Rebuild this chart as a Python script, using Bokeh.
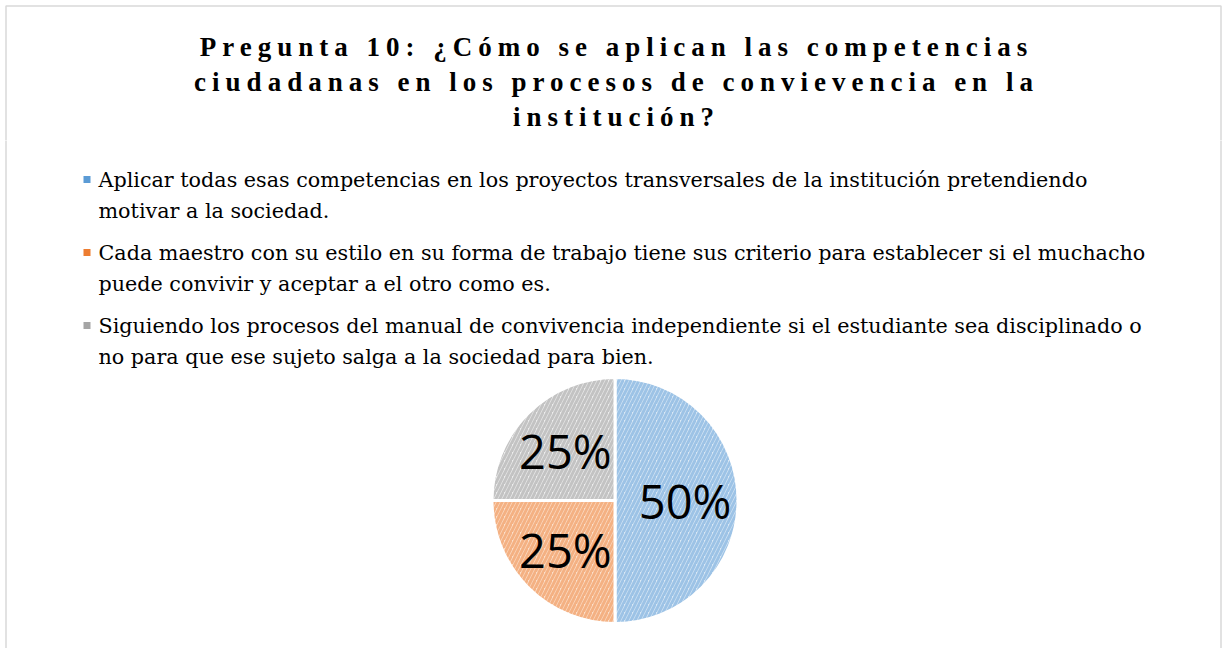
import numpy as np
from bokeh.plotting import figure
from bokeh.layouts import column
from bokeh.models import Range1d, ColumnDataSource
from bokeh.core.properties import value
from bokeh.embed import file_html
from bokeh.resources import INLINE

# ---- data ----
title_lines = [
    "Pregunta 10: ¿Cómo se aplican las competencias",
    "ciudadanas en los procesos de convievencia en la",
    "institución?",
]
categories = [
    "Aplicar todas esas competencias en los proyectos transversales de la institución pretendiendo motivar a la sociedad.",
    "Cada maestro con su  estilo en su forma de trabajo tiene sus criterio para establecer si el muchacho puede convivir y aceptar a el otro como es.",
    "Siguiendo los procesos del manual de convivencia independiente si el estudiante sea disciplinado o no para que ese  sujeto salga a la sociedad para bien.",
]
legend_lines = [
    ["Aplicar todas esas competencias en los proyectos transversales de la institución pretendiendo",
     "motivar a la sociedad."],
    ["Cada maestro con su  estilo en su forma de trabajo tiene sus criterio para establecer si el muchacho",
     "puede convivir y aceptar a el otro como es."],
    ["Siguiendo los procesos del manual de convivencia independiente si el estudiante sea disciplinado o",
     "no para que ese  sujeto salga a la sociedad para bien."],
]
values = [50, 25, 25]
fill_colors = ["#dae8f5", "#fbe0cc", "#ededed"]
hatch_colors = ["#9dc3e6", "#f4b183", "#c3c3c3"]
marker_colors = ["#5b9bd5", "#ed7d31", "#a5a5a5"]

W = 1222
H1, H2 = 140, 508
BORDER = "#d9d9d9"
SPACING = 6  # px letter spacing of the title

def Y1(yref):
    return H1 - yref

def Y2(yref):
    return H1 + H2 - yref

# ---- title figure ----
t = figure(width=W, height=H1, output_backend="svg", toolbar_location=None,
           x_range=Range1d(0, W), y_range=Range1d(0, H1), min_border=0,
           styles={"letter-spacing": f"{SPACING}px"})
t.axis.visible = False
t.grid.visible = False
t.outline_line_color = None
t.quad(left=[5.5], right=[1220.5], top=[Y1(5.5)], bottom=[-20],
       fill_color=None, line_color=BORDER, line_width=1.5)
tf = value("Liberation Serif")
for i, line in enumerate(title_lines):
    # compensate the centring for the extra letter spacing
    xc = 616 - SPACING * len(line) / 2
    t.text(x=[xc], y=[Y1(46 + 35 * i)], text=[line], text_font=tf,
           text_font_size="27px", text_font_style="bold", text_color="#000000",
           text_align="center", text_baseline="middle")

# ---- main figure ----
p = figure(width=W, height=H2, output_backend="svg", toolbar_location=None,
           x_range=Range1d(0, W), y_range=Range1d(0, H2), min_border=0)
p.axis.visible = False
p.grid.visible = False
p.outline_line_color = None
p.quad(left=[5.5], right=[1220.5], top=[H2 + 20], bottom=[-20],
       fill_color=None, line_color=BORDER, line_width=1.5)

# legend
lf_font = value("DejaVu Serif")
ly0 = 179
for i, lines in enumerate(legend_lines):
    yy = ly0 + 73 * i
    p.scatter(x=[86.5], y=[Y2(yy)], marker="square", size=7,
              fill_color=marker_colors[i], line_color=None)
    for j, ln in enumerate(lines):
        p.text(x=[98], y=[Y2(yy + 31 * j)], text=[ln], text_font=lf_font,
               text_font_size="20.7px", text_color="#000000",
               text_align="left", text_baseline="middle")

# pie
cx, cy, r = 614.5, Y2(500), 123
vals = np.array(values, dtype=float)
frac = vals / vals.sum()
ends = np.pi / 2 - 2 * np.pi * np.concatenate([[0], np.cumsum(frac)[:-1]])
starts = ends - 2 * np.pi * frac
src = ColumnDataSource(dict(start=starts, end=ends, fill=fill_colors,
                            hatch=hatch_colors, cat=categories))
p.wedge(x=cx, y=cy, radius=r, radius_units="screen",
        start_angle="start", end_angle="end", source=src,
        fill_color="fill", hatch_pattern="/", hatch_color="hatch",
        hatch_scale=8, hatch_weight=3, line_color="white", line_width=3)

mids = (starts + ends) / 2
lfac = 0.57
labx = cx + lfac * r * np.cos(mids)
laby = cy + lfac * r * np.sin(mids)
labels = [f"{v:.0f}%" for v in frac * 100]
p.text(x=labx, y=laby, text=labels, text_font=value("Open Sans"),
       text_font_size="47px", text_color="#000000",
       text_align="center", text_baseline="middle")

layout = column(t, p, spacing=0)
open("out.html", "w").write(file_html(layout, INLINE))
